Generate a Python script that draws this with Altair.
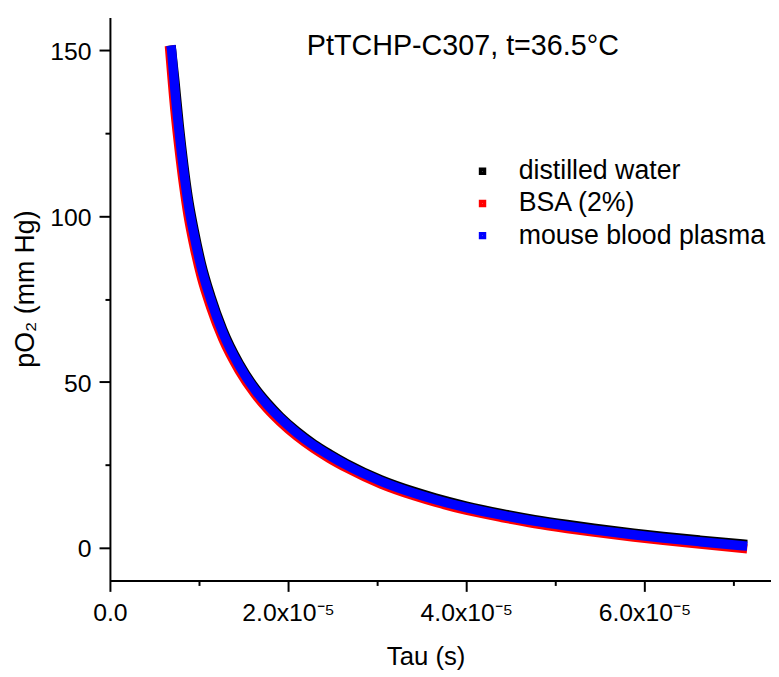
import altair as alt
import pandas as pd

series_names = ["distilled water", "BSA (2%)", "mouse blood plasma"]
series_colors = ["#000000", "#ff0000", "#0000ff"]

tau_water = [0.692e-5, 0.730e-5, 0.778e-5, 0.830e-5, 0.878e-5, 0.944e-5, 1.026e-5, 1.130e-5,
             1.267e-5, 1.452e-5, 1.633e-5, 1.767e-5, 1.911e-5, 2.100e-5, 2.289e-5, 2.467e-5,
             2.656e-5, 3.044e-5, 3.433e-5, 3.656e-5, 4.000e-5, 4.400e-5, 4.767e-5, 5.133e-5,
             5.433e-5, 5.878e-5, 6.211e-5, 6.622e-5, 7.100e-5]
po2_water = [150.1, 140.6, 127.4, 115.2, 105.7, 95.9, 85.7, 76.0, 65.7, 55.5, 48.0, 43.6,
             39.5, 35.0, 31.2, 28.2, 25.3, 20.4, 16.7, 14.9, 12.5, 10.2, 8.4, 6.9, 5.8,
             4.3, 3.3, 2.2, 1.0]

tau_bsa = [0.672e-5, 0.730e-5, 0.778e-5, 0.830e-5, 0.878e-5, 0.944e-5, 1.026e-5, 1.130e-5,
           1.267e-5, 1.452e-5, 1.633e-5, 1.767e-5, 1.911e-5, 2.100e-5, 2.289e-5, 2.467e-5,
           2.656e-5, 3.044e-5, 3.433e-5, 3.656e-5, 4.000e-5, 4.400e-5, 4.767e-5, 5.133e-5,
           5.433e-5, 5.878e-5, 6.211e-5, 6.622e-5, 7.100e-5]
po2_bsa = [150.0, 131.9, 120.0, 108.8, 100.1, 91.0, 81.6, 72.6, 62.9, 53.3, 46.1, 41.8,
           37.9, 33.5, 29.8, 26.8, 24.0, 19.1, 15.4, 13.6, 11.2, 9.0, 7.2, 5.7, 4.6,
           3.1, 2.1, 1.0, -0.3]

tau_plasma = [0.692e-5, 0.730e-5, 0.778e-5, 0.830e-5, 0.878e-5, 0.944e-5, 1.026e-5, 1.130e-5,
              1.267e-5, 1.452e-5, 1.633e-5, 1.767e-5, 1.911e-5, 2.100e-5, 2.289e-5, 2.467e-5,
              2.656e-5, 3.044e-5, 3.433e-5, 3.656e-5, 4.000e-5, 4.400e-5, 4.767e-5, 5.133e-5,
              5.433e-5, 5.878e-5, 6.211e-5, 6.622e-5, 7.100e-5]
po2_plasma = [150.1, 137.8, 125.0, 113.1, 103.9, 94.3, 84.4, 74.9, 64.8, 54.8, 47.4, 43.0,
              39.0, 34.5, 30.7, 27.7, 24.8, 19.95, 16.2, 14.4, 12.0, 9.7, 7.9, 6.4, 5.3,
              3.8, 2.8, 1.7, 0.5]

x_major = [0, 2e-5, 4e-5, 6e-5]
x_minor = [1e-5, 3e-5, 5e-5, 7e-5]
y_major = [0, 50, 100, 150]
y_minor = [25, 75, 125]
title_text = "PtTCHP-C307, t=36.5°C"

rows = []
for name, taus, vals in zip(series_names,
                            [tau_water, tau_bsa, tau_plasma],
                            [po2_water, po2_bsa, po2_plasma]):
    for i, (t, v) in enumerate(zip(taus, vals)):
        rows.append({"series": name, "tau": t, "po2": v, "i": i})
df = pd.DataFrame(rows)

FONT = "Liberation Sans"
xscale = alt.Scale(domain=[0, 7.42e-5], nice=False, zero=False)
yscale = alt.Scale(domain=[-10, 160], nice=False, zero=False)

legend = alt.Legend(
    title=None, orient="none", legendX=363, legendY=142,
    symbolType="square", symbolSize=16, symbolStrokeWidth=3.5, symbolOpacity=1,
    labelFont=FONT, labelFontSize=27, labelColor="black", labelOffset=23,
    labelLimit=0, rowPadding=4.5, padding=0,
)
color = alt.Color("series:N",
                  scale=alt.Scale(domain=series_names, range=series_colors),
                  legend=legend)

x_axis = alt.Axis(
    values=x_major, orient="bottom", grid=False,
    labelExpr="datum.value == 0 ? '0.0' : format(datum.value * 100000, '.1f') + 'x10\u207b\u2075'",
    tickSize=11, tickWidth=2, tickColor="black", domainWidth=2, domainColor="black",
    labelFont=FONT, labelFontSize=25, labelColor="black", labelPadding=9,
    labelFlush=False, labelOverlap=False,
    title="Tau (s)", titleFont=FONT, titleFontSize=26, titleFontWeight="normal",
    titleColor="black", titleX=319, titleY=85, titleBaseline="alphabetic", titleAlign="center",
)
y_axis = alt.Axis(
    values=y_major, orient="left", grid=False,
    tickSize=11, tickWidth=2, tickColor="black", domainWidth=2, domainColor="black",
    labelFont=FONT, labelFontSize=25, labelColor="black", labelPadding=8,
    labelOffset=1.5, labelFlush=False, labelOverlap=False,
    title="pO\u2082 (mm Hg)", titleFont=FONT, titleFontSize=27, titleFontWeight="normal",
    titleColor="black", titleX=-77, titleY=274, titleBaseline="alphabetic",
    titleAlign="center", titleAngle=270,
)
x_minor_axis = alt.Axis(values=x_minor, orient="bottom", labels=False, domain=False,
                        grid=False, tickSize=5, tickWidth=2, tickColor="black", title=None)
y_minor_axis = alt.Axis(values=y_minor, orient="left", labels=False, domain=False,
                        grid=False, tickSize=5, tickWidth=2, tickColor="black", title=None)


def line_layer(name, with_axes):
    return alt.Chart(df).transform_filter(
        alt.datum.series == name
    ).mark_line(strokeWidth=9.5, strokeCap="square", strokeJoin="round",
                interpolate="monotone").encode(
        x=alt.X("tau:Q", scale=xscale, axis=x_axis if with_axes else None),
        y=alt.Y("po2:Q", scale=yscale, axis=y_axis if with_axes else None),
        color=color,
        order="i:Q",
    )


minor = alt.Chart(df).mark_point(opacity=0).encode(
    x=alt.X("tau:Q", scale=xscale, axis=x_minor_axis),
    y=alt.Y("po2:Q", scale=yscale, axis=y_minor_axis),
)

title = alt.Chart(pd.DataFrame({"label": [title_text]})).mark_text(
    align="left", baseline="alphabetic", font=FONT, fontSize=29, color="black"
).encode(x=alt.value(199), y=alt.value(38), text="label:N")

chart = alt.layer(
    line_layer(series_names[0], True),
    line_layer(series_names[1], False),
    line_layer(series_names[2], False),
    minor,
    title,
).resolve_axis(x="independent", y="independent").properties(
    width=668, height=569,
    autosize=alt.AutoSizeParams(type="none"),
    padding={"left": 103, "top": 6, "right": 0, "bottom": 90},
    background="white",
).configure_view(stroke=None)

chart.save("out.html", embed_options={"renderer": "svg", "actions": False})
